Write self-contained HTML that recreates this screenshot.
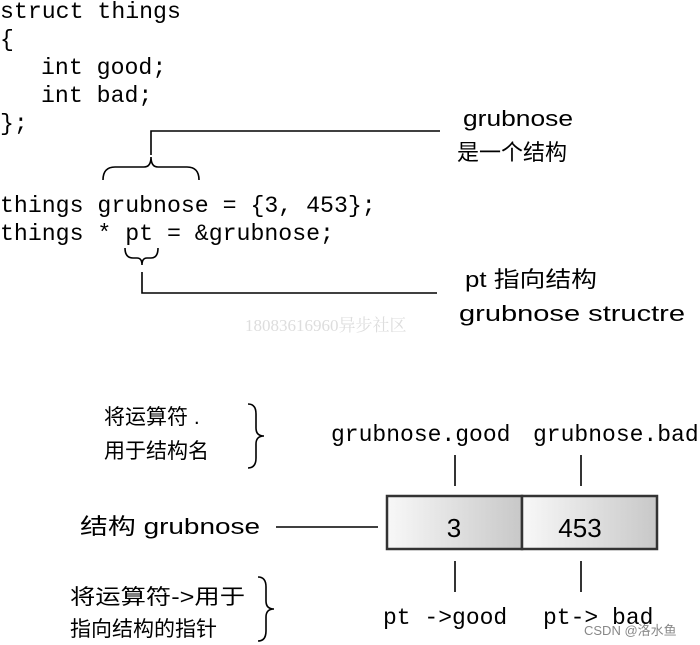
<!DOCTYPE html>
<html><head><meta charset="utf-8"><style>body{margin:0;background:#fff}svg{display:block}</style></head><body>
<svg width="700" height="645" xmlns="http://www.w3.org/2000/svg">
<defs><linearGradient id="g" x1="0" x2="1"><stop offset="0" stop-color="#f8f8f8"/><stop offset="1" stop-color="#c8c8c8"/></linearGradient></defs>
<g font-family="Liberation Mono, monospace" font-size="23.2" fill="#000">
<text x="0" y="18">struct things</text>
<text x="0" y="46">{</text>
<text x="41" y="74">int good;</text>
<text x="41" y="102">int bad;</text>
<text x="0" y="130">};</text>
<text x="0" y="212">things grubnose = {3, 453};</text>
<text x="0" y="240">things * pt = &amp;grubnose;</text>
</g>
<g fill="none" stroke="#000" stroke-width="1.6">
<path d="M151 155 V131 H440"/>
<path d="M103 180 Q103 167 115 167 H144 Q151 167 151 157 Q151 167 158 167 H187 Q199 167 199 180"/>
<path d="M125 248 Q125 258 133 258 H137 Q142 258 142 265 Q142 258 147 258 H151 Q158 258 158 248"/>
<path d="M142 272 V293 H437"/>
<path d="M248 404 Q256 404 256 414 V428 Q256 436 264 436 Q256 436 256 444 V458 Q256 468 248 468"/>
<path d="M258 577 Q266 577 266 587 V601 Q266 609 274 609 Q266 609 266 617 V631 Q266 641 258 641"/>
<line x1="455" y1="455" x2="455" y2="486"/><line x1="581" y1="455" x2="581" y2="486"/>
<line x1="455" y1="561" x2="455" y2="592"/><line x1="581" y1="561" x2="581" y2="592"/>
<line x1="276" y1="527" x2="378" y2="527"/>
</g>
<rect x="387" y="496" width="135" height="53" fill="url(#g)" stroke="#333" stroke-width="2.5"/>
<rect x="522" y="496" width="135" height="53" fill="url(#g)" stroke="#333" stroke-width="2.5"/>
<g font-family="Liberation Sans, Noto Sans CJK SC, sans-serif" font-size="22" fill="#000">
<text x="454" y="537" text-anchor="middle" font-size="26">3</text>
<text x="580" y="537" text-anchor="middle" font-size="26">453</text>
<text x="463" y="126" textLength="110" lengthAdjust="spacingAndGlyphs">grubnose</text>
<text x="457" y="160">是一个结构</text>
<text x="465" y="287" textLength="132" lengthAdjust="spacingAndGlyphs">pt 指向结构</text>
<text x="459" y="321" textLength="226" lengthAdjust="spacingAndGlyphs">grubnose structre</text>
<text x="104" y="424" font-size="21">将运算符 .</text>
<text x="104" y="458" font-size="21">用于结构名</text>
<text x="80" y="534" textLength="180" lengthAdjust="spacingAndGlyphs">结构 grubnose</text>
<text x="70" y="604" font-size="21" textLength="175" lengthAdjust="spacingAndGlyphs">将运算符-&gt;用于</text>
<text x="70" y="636" font-size="21">指向结构的指针</text>
</g>
<g font-family="Liberation Mono, monospace" font-size="23" fill="#000">
<text x="331" y="441">grubnose.good</text>
<text x="533" y="441">grubnose.bad</text>
<text x="383" y="624">pt -&gt;good</text>
<text x="543" y="624">pt-&gt; bad</text>
</g>
<text x="245" y="331" font-family="Liberation Serif, Noto Serif CJK SC, serif" font-size="17" fill="#ddd">18083616960异步社区</text>
<text x="584" y="635" font-family="Liberation Sans, Noto Sans CJK SC, sans-serif" font-size="13" fill="#888">CSDN @洛水鱼</text>
</svg>
</body></html>
